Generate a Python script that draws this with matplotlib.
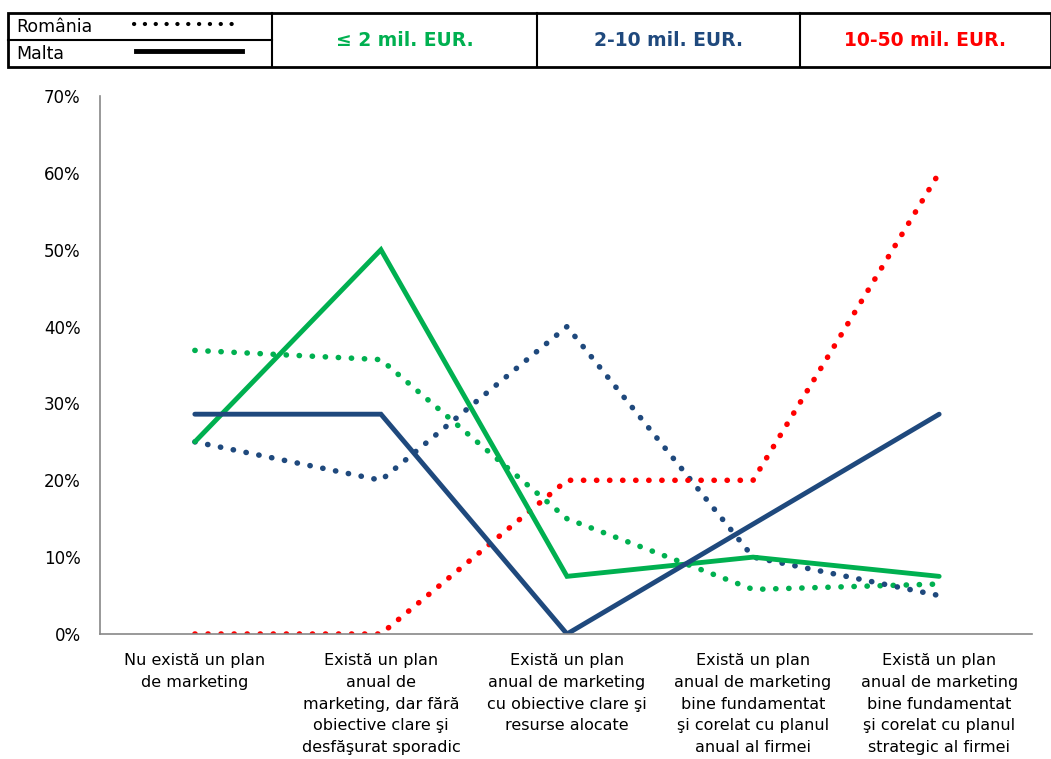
import matplotlib.pyplot as plt
from matplotlib.lines import Line2D
from matplotlib.patches import Rectangle
from matplotlib.ticker import PercentFormatter

categories = [
    "Nu există un plan\nde marketing",
    "Există un plan\nanual de\nmarketing, dar fără\nobiective clare şi\ndesfăşurat sporadic",
    "Există un plan\nanual de marketing\ncu obiective clare şi\nresurse alocate",
    "Există un plan\nanual de marketing\nbine fundamentat\nşi corelat cu planul\nanual al firmei",
    "Există un plan\nanual de marketing\nbine fundamentat\nşi corelat cu planul\nstrategic al firmei",
]

# Malta (solid lines)
malta_small = [25.0, 50.0, 7.5, 10.0, 7.5]
malta_medium = [28.6, 28.6, 0.0, 14.3, 28.6]

# Romania (dotted lines)
ro_small = [36.9, 35.7, 15.0, 5.8, 6.5]
ro_medium = [25.0, 20.0, 40.0, 10.0, 5.0]
ro_large = [0.0, 0.0, 20.0, 20.0, 60.0]

group_labels = ["≤ 2 mil. EUR.", "2-10 mil. EUR.", "10-50 mil. EUR."]
GREEN, BLUE, RED = "#00B050", "#1F497D", "#FF0000"

fig = plt.figure(figsize=(10.51, 7.59), dpi=100)
ax = fig.add_axes([0.0951, 0.1647, 0.887, 0.7088])

x = range(len(categories))
dotted = (0, (0.05, 2.3))
ax.plot(x, ro_small, color=GREEN, lw=4.0, ls=dotted, dash_capstyle="round")
ax.plot(x, ro_medium, color=BLUE, lw=4.0, ls=dotted, dash_capstyle="round")
ax.plot(x, ro_large, color=RED, lw=4.0, ls=dotted, dash_capstyle="round")
ax.plot(x, malta_small, color=GREEN, lw=3.5, solid_capstyle="round", solid_joinstyle="miter")
ax.plot(x, malta_medium, color=BLUE, lw=3.5, solid_capstyle="round", solid_joinstyle="miter")

ax.set_ylim(0, 70)
ax.set_xlim(-0.51, 4.5)
ax.set_yticks(range(0, 71, 10))
ax.yaxis.set_major_formatter(PercentFormatter(decimals=0))
ax.set_xticks(list(x))
ax.set_xticklabels(categories, fontsize=11.5, linespacing=1.55)
ax.tick_params(length=0, labelsize=11.5)
ax.tick_params(axis="y", pad=14, labelsize=12)
ax.tick_params(axis="x", pad=14)
for s in ["top", "right"]:
    ax.spines[s].set_visible(False)
for s in ["left", "bottom"]:
    ax.spines[s].set_color("#888888")
    ax.spines[s].set_linewidth(1.2)

# legend table at the top
W, H = 1051, 759
def fx(px):
    return px / W
def fy(py):
    return 1 - py / H

top, bot, mid = 13, 67, 40
cols = [8, 272, 537, 800, 1051]
fig.add_artist(Rectangle((fx(cols[0]), fy(bot)), fx(cols[-1] - cols[0]), (bot - top) / H,
                         transform=fig.transFigure, fill=False, lw=2, edgecolor="black"))
for c in cols[1:-1]:
    fig.add_artist(Line2D([fx(c), fx(c)], [fy(top), fy(bot)], transform=fig.transFigure,
                          color="black", lw=1.5))
fig.add_artist(Line2D([fx(cols[0]), fx(cols[1])], [fy(mid), fy(mid)], transform=fig.transFigure,
                      color="black", lw=1.5))

fig.text(fx(16), fy(26.5), "România", fontsize=12.5, va="center", ha="left")
fig.text(fx(16), fy(54), "Malta", fontsize=12.5, va="center", ha="left")
fig.add_artist(Line2D([fx(134), fx(236)], [fy(24), fy(24)], transform=fig.transFigure,
                      color="black", lw=3.0, ls=(0, (0.05, 2.55)), dash_capstyle="round"))
fig.add_artist(Line2D([fx(136), fx(242)], [fy(51), fy(51)], transform=fig.transFigure,
                      color="black", lw=3.5))

for i, (lab, col) in enumerate(zip(group_labels, [GREEN, BLUE, RED])):
    cx = (cols[i + 1] + cols[i + 2]) / 2
    fig.text(fx(cx), fy(41), lab, fontsize=13.5, fontweight="bold", color=col,
             ha="center", va="center")

fig.savefig("out.png", dpi=100)
